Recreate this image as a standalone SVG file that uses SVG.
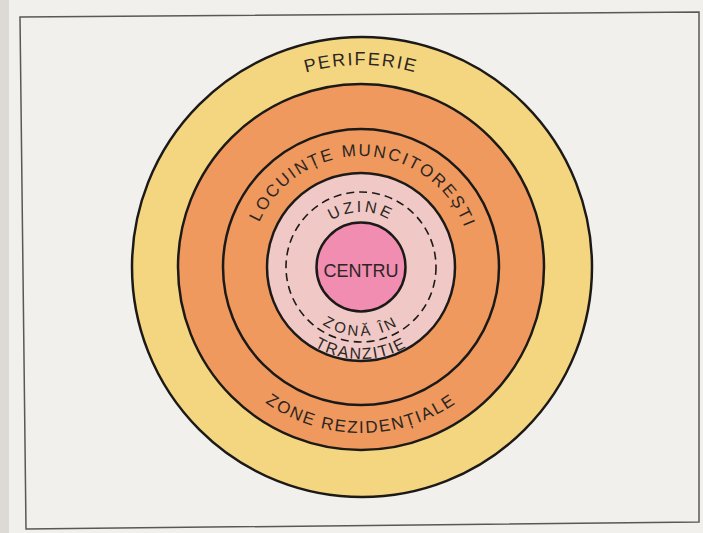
<svg xmlns="http://www.w3.org/2000/svg" width="703" height="533" viewBox="0 0 703 533">
<defs>
<style>
.ring{stroke:#1c1a18;stroke-width:2.5}
.lbl{font-family:"Liberation Sans",Arial,sans-serif;fill:#2b2622}
</style>
<path id="pPer" d="M159,267 A202,202 0 0 1 563,267"/>
<path id="pLoc" d="M250,267 A111,111 0 0 1 472,267"/>
<path id="pUz" d="M306,267 A55,55 0 0 1 416,267"/>
<path id="pZona" d="M292,267 A69,69 0 0 0 430,267"/>
<path id="pTr" d="M269,267 A92,92 0 0 0 453,267"/>
<path id="pRez" d="M195,267 A166,166 0 0 0 527,267"/>
</defs>
<rect x="0" y="0" width="703" height="533" fill="#f2f0ec"/>
<rect x="0" y="0" width="9" height="533" fill="#dddad5"/>
<polygon points="20,17 699,12 699,522 26,529" fill="none" stroke="#5a5854" stroke-width="1.5"/>
<g id="periferie">
<circle class="ring" cx="362" cy="267" r="230" fill="#f5d680"/>
<text class="lbl" font-size="18" letter-spacing="1.9"><textPath href="#pPer" startOffset="50%" text-anchor="middle">PERIFERIE</textPath></text>
</g>
<g id="zone-rezidentiale">
<circle class="ring" cx="361" cy="267" r="183" fill="#f0995e"/>
<text class="lbl" font-size="17" letter-spacing="1.8"><textPath href="#pRez" startOffset="50%" text-anchor="middle">ZONE REZIDENȚIALE</textPath></text>
</g>
<g id="locuinte-muncitoresti">
<circle class="ring" cx="361" cy="267" r="138" fill="#f0995e"/>
<text class="lbl" font-size="17" letter-spacing="2.1"><textPath href="#pLoc" startOffset="51%" text-anchor="middle">LOCUINȚE MUNCITOREȘTI</textPath></text>
</g>
<g id="zona-in-tranzitie">
<circle class="ring" cx="361" cy="267" r="94" fill="#f0c9c6"/>
<text class="lbl" font-size="15" letter-spacing="3"><textPath href="#pZona" startOffset="50%" text-anchor="middle">ZONĂ ÎN</textPath></text>
<text class="lbl" font-size="16" letter-spacing="1.7"><textPath href="#pTr" startOffset="50%" text-anchor="middle">TRANZIȚIE</textPath></text>
</g>
<g id="uzine">
<circle cx="361" cy="267" r="75" fill="none" stroke="#1c1a18" stroke-width="1.6" stroke-dasharray="8 5"/>
<text class="lbl" font-size="16" letter-spacing="3"><textPath href="#pUz" startOffset="50%" text-anchor="middle">UZINE</textPath></text>
</g>
<g id="centru">
<circle class="ring" cx="361" cy="267" r="44.5" fill="#f08db0"/>
<text class="lbl" x="361" y="277" font-size="18" text-anchor="middle">CENTRU</text>
</g>
</svg>
